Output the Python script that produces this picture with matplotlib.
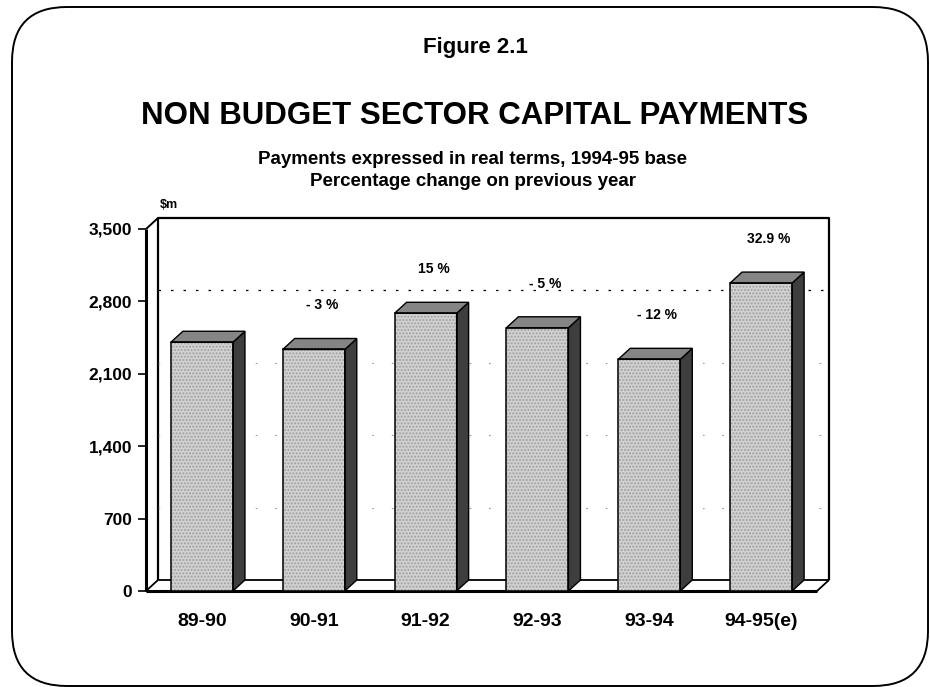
import matplotlib.pyplot as plt
from matplotlib.patches import Polygon, FancyBboxPatch

# Data
years = ['89-90', '90-91', '91-92', '92-93', '93-94', '94-95(e)']
payments = [2405, 2335, 2685, 2545, 2240, 2977]
changes = ['', '- 3 %', '15 %', '- 5 %', '- 12 %', '32.9 %']
yticks = [0, 700, 1400, 2100, 2800, 3500]
ytick_labels = ['0', '700', '1,400', '2,100', '2,800', '3,500']

plt.rcParams['font.family'] = ['Liberation Sans', 'DejaVu Sans']
plt.rcParams['font.weight'] = 'bold'

W, H = 930, 687
fig = plt.figure(figsize=(W / 100, H / 100), dpi=100)

# front frame of the plot in pixels
x0, x1, y0, y1 = 146, 817, 591, 229
ax = fig.add_axes([x0 / W, 1 - y0 / H, (x1 - x0) / W, (y0 - y1) / H])
ax.set_xlim(-0.5, 5.5)
ax.set_ylim(0, 3500)
for s in ax.spines.values():
    s.set_visible(False)

# 3D depth, converted from pixels to data units
dx = 12 / (x1 - x0) * 6
dy = 11 / (y0 - y1) * 3500
L, R, T = -0.5, 5.5, 3500

def line(xs, ys, **kw):
    ax.plot(xs, ys, color='black', clip_on=False, solid_capstyle='butt', **kw)

# back wall + gridlines
line([L + dx, L + dx, R + dx, R + dx], [dy, T + dy, T + dy, dy], lw=1.6, zorder=1)
for v in yticks[1:-1]:
    if v == 2800:
        ax.plot([L + dx, R + dx], [v + dy, v + dy], color='black', lw=0.9,
                ls=(0, (2, 8)), clip_on=False, zorder=1)
    else:
        ax.plot([L + dx, R + dx], [v + dy, v + dy], color='#999999', lw=0.8,
                ls=(0, (1.5, 16)), clip_on=False, zorder=1)
# left wall
line([L, L + dx], [T, T + dy], lw=1.4, zorder=2)

# floor
floor = Polygon([(L, 0), (R, 0), (R + dx, dy), (L + dx, dy)], closed=True,
                facecolor='white', edgecolor='black', lw=1.3, zorder=2, clip_on=False)
ax.add_patch(floor)
line([L, R], [0, 0], lw=2.2, zorder=3)
line([L, L], [0, T], lw=2.2, zorder=3)

# bars
bw = 0.555
x = list(range(len(years)))
ax.bar(x, payments, width=bw, color='#d2d2d2', edgecolor='#a0a0a0', hatch='.....',
       lw=0, zorder=4)
ax.bar(x, payments, width=bw, fill=False, edgecolor='black', lw=1.1, zorder=5)
for xi, v in zip(x, payments):
    xr = xi + bw / 2
    xl = xi - bw / 2
    side = Polygon([(xr, 0), (xr + dx, dy), (xr + dx, v + dy), (xr, v)], closed=True,
                   facecolor='#3e3e3e', edgecolor='black', lw=1.0, zorder=4, clip_on=False)
    top = Polygon([(xl, v), (xl + dx, v + dy), (xr + dx, v + dy), (xr, v)], closed=True,
                  facecolor='#858585', edgecolor='black', lw=1.0, zorder=4, clip_on=False)
    ax.add_patch(side)
    ax.add_patch(top)

# percentage change labels
for xi, v, t in zip(x, payments, changes):
    if t:
        ax.annotate(t, (xi, v), xytext=(8, 44), textcoords='offset pixels',
                    ha='center', va='center', fontsize=10, fontweight='bold')

# axes ticks
ax.set_yticks(yticks)
ax.set_yticklabels(ytick_labels)
ax.set_xticks(x)
ax.set_xticklabels(years)
ax.tick_params(axis='y', length=6, width=1.2, pad=4, labelsize=12.5)
ax.tick_params(axis='x', length=0, pad=16, labelsize=14)

fig.text(160 / W, 1 - 205 / H, r'\$m', fontsize=9, fontweight='bold', ha='left', va='center')

# titles
fig.text(475 / W, 1 - 48 / H, 'Figure 2.1', fontsize=16, fontweight='bold', ha='center', va='center')
fig.text(475 / W, 1 - 116 / H, 'NON BUDGET SECTOR CAPITAL PAYMENTS', fontsize=22.5,
         fontweight='bold', ha='center', va='center')
fig.text(473 / W, 1 - 159 / H, 'Payments expressed in real terms, 1994-95 base', fontsize=13.5,
         fontweight='bold', ha='center', va='center')
fig.text(473 / W, 1 - 181 / H, 'Percentage change on previous year', fontsize=13.5,
         fontweight='bold', ha='center', va='center')

# rounded border
border = FancyBboxPatch((0.12, 0.01), 9.16, 6.79, boxstyle='round,pad=0,rounding_size=0.55',
                        transform=fig.dpi_scale_trans, facecolor='none', edgecolor='black',
                        lw=1.4)
fig.patches.append(border)

fig.savefig('out.png', dpi=100)
